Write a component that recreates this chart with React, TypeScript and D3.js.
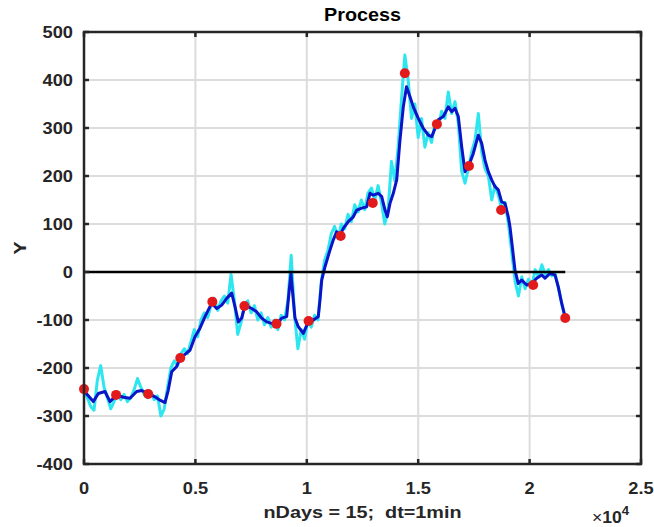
import React from "react";
import * as d3 from "d3";

// ---- data ----
const xTicks = [0, 5000, 10000, 15000, 20000, 25000];
const xTickLabels = ["0", "0.5", "1", "1.5", "2", "2.5"];
const yTicks = [-400, -300, -200, -100, 0, 100, 200, 300, 400, 500];

// raw process (cyan), sampled every 150 min
const rawStep = 150;
const rawValues = [
  -244, -262, -280, -288, -225, -195, -240, -262, -285, -270,
  -250, -266, -255, -270, -262, -245, -222, -240, -255, -262,
  -250, -266, -258, -300, -285, -240, -200, -185, -195, -170,
  -160, -170, -145, -120, -135, -100, -85, -95, -70, -55,
  -80, -60, -50, -65, -5, -60, -130, -105, -70, -60,
  -85, -70, -100, -85, -110, -95, -115, -100, -120, -90,
  -100, -60, 35, -90, -160, -120, -140, -100, -115, -90,
  -100, -20, 25, 45, 80, 95, 70, 100, 90, 120,
  105, 140, 125, 150, 130, 165, 175, 150, 180, 145,
  100, 130, 230, 190, 260, 360, 452, 400, 320, 350,
  280, 320, 260, 290, 270, 310, 300, 335, 320, 375,
  330, 355, 310, 210, 185, 215, 250, 275, 330, 250,
  215, 200, 150, 180, 160, 130, 145, 100, 40, -20,
  -50, -10, -35, -15, -30, 5, -10, 15, -5, 5,
  -8, -5, -35, -68, -96,
];

// smoothed process (blue)
const smoothX = [
  0, 45, 417, 642, 942, 1167, 1468, 1764, 2064, 2365, 2590, 2886, 3186, 3411, 3635,
  3783, 3936, 4160, 4308, 4757, 4982, 5206, 5431, 5731, 5956, 6180, 6405, 6629, 6777,
  6925, 7078, 7226, 7527, 7751, 7976, 8200, 8424, 8649, 8873, 9097, 9214, 9290, 9366,
  9470, 9618, 9842, 10067, 10291, 10515, 10592, 10669, 10817, 11042, 11190, 11342,
  11491, 11638, 11862, 12087, 12240, 12464, 12689, 12836, 12984, 13209, 13362, 13510,
  13613, 13734, 13882, 14035, 14183, 14331, 14475, 14632, 14780, 15004, 15229, 15453,
  15606, 15754, 15902, 16126, 16351, 16504, 16652, 16800, 16952, 17100, 17248, 17473,
  17697, 17850, 17998, 18146, 18298, 18446, 18595, 18747, 18895, 19044, 19120, 19241,
  19344, 19492, 19645, 19869, 20094, 20318, 20543, 20691, 20915, 21140, 21288, 21440,
  21600,
];
const smoothY = [
  -244, -250, -270, -253, -249, -270, -256, -261, -263, -249, -247, -253, -260, -267, -272,
  -246, -208, -197, -180, -163, -135, -117, -93, -65, -76, -69, -55, -44, -72,
  -104, -96, -69, -76, -83, -96, -104, -107, -110, -96, -93, -37, -3, -44,
  -96, -114, -128, -104, -100, -93, -58, -17, 11, 46, 67, 84,
  77, 91, 105, 115, 129, 133, 136, 164, 160, 164, 157, 129,
  115, 143, 164, 192, 275, 344, 386, 365, 344, 320, 299, 285,
  282, 299, 317, 324, 344, 334, 341, 324, 261, 209, 219, 247,
  285, 268, 233, 209, 192, 178, 171, 146, 143, 115, 94, 46,
  4, -24, -17, -27, -24, -13, -6, -13, -3, -6, -31, -65,
  -95,
];

// daily samples (red dots)
const dayX = [0, 1440, 2880, 4320, 5760, 7200, 8640, 10080, 11520, 12960, 14400, 15840, 17280, 18720, 20160, 21600];
const dayY = [-244, -256, -254, -179, -62, -71, -108, -102, 75, 144, 414, 308, 221, 129, -27, -96];

const zeroLineX = [0, 21600];

const title = "Process";
const xLabel = "nDays = 15;  dt=1min";
const yLabel = "Y";

const FONT = "'Liberation Sans', Arial, Helvetica, sans-serif";
const TEXT_COLOR = "#262626";

function T(props: {
  x: number; y: number; size: number; sx: number; anchor?: string; rotate?: number;
  color?: string; dy?: string; children: React.ReactNode;
}) {
  const { x, y, size, sx, anchor = "start", rotate = 0, color = TEXT_COLOR, dy, children } = props;
  return (
    <g transform={`translate(${x},${y}) rotate(${rotate}) scale(${sx},1)`}>
      <text
        x={0}
        y={0}
        dy={dy}
        textAnchor={anchor as any}
        fontFamily={FONT}
        fontWeight="bold"
        fontSize={size}
        fill={color}
        xmlSpace="preserve"
        style={{ whiteSpace: "pre" }}
      >
        {children}
      </text>
    </g>
  );
}

export default function App() {
  const W = 654;
  const H = 527;
  const left = 84, right = 641, top = 32, bottom = 464;

  const x = d3.scaleLinear().domain([0, 25000]).range([left, right]);
  const y = d3.scaleLinear().domain([-400, 500]).range([bottom, top]);

  const rawPts: [number, number][] = rawValues.map((v, i) => [i * rawStep, v]);
  const smoothPts: [number, number][] = smoothX.map((v, i) => [v, smoothY[i]]);
  const line = d3.line<[number, number]>().x((d) => x(d[0])).y((d) => y(d[1]));

  const axisColor = "#262626";
  const gridColor = "#dcdcdc";
  const tickLen = 5;

  return (
    <svg width={W} height={H} style={{ position: "absolute", left: 0, top: 0, background: "#fff" }}>
      <rect x={0} y={0} width={W} height={H} fill="#fff" />
      {/* grid */}
      {xTicks.slice(1, -1).map((t) => (
        <line key={"gx" + t} x1={x(t)} x2={x(t)} y1={top} y2={bottom} stroke={gridColor} strokeWidth={2} />
      ))}
      {yTicks.slice(1, -1).map((t) => (
        <line key={"gy" + t} x1={left} x2={right} y1={y(t)} y2={y(t)} stroke={gridColor} strokeWidth={2} />
      ))}
      {/* raw series */}
      <path d={line(rawPts) || ""} fill="none" stroke="#2ee6f0" strokeWidth={3} strokeLinejoin="round" />
      {/* smoothed */}
      <path d={line(smoothPts) || ""} fill="none" stroke="#0a14c8" strokeWidth={3} strokeLinejoin="round" />
      {/* zero line */}
      <line x1={x(zeroLineX[0])} x2={x(zeroLineX[1])} y1={y(0)} y2={y(0)} stroke="#000" strokeWidth={2.5} />
      {/* dots */}
      {dayX.map((dx, i) => (
        <circle key={"d" + i} cx={x(dx)} cy={y(dayY[i])} r={5} fill="#e31a1c" />
      ))}
      {/* box */}
      <rect x={left} y={top} width={right - left} height={bottom - top} fill="none" stroke={axisColor} strokeWidth={2.5} />
      {/* ticks */}
      {xTicks.map((t) => (
        <g key={"tx" + t}>
          <line x1={x(t)} x2={x(t)} y1={bottom} y2={bottom - tickLen} stroke={axisColor} strokeWidth={2.5} />
          <line x1={x(t)} x2={x(t)} y1={top} y2={top + tickLen} stroke={axisColor} strokeWidth={2.5} />
        </g>
      ))}
      {yTicks.map((t) => (
        <g key={"ty" + t}>
          <line x1={left} x2={left + tickLen} y1={y(t)} y2={y(t)} stroke={axisColor} strokeWidth={2.5} />
          <line x1={right} x2={right - tickLen} y1={y(t)} y2={y(t)} stroke={axisColor} strokeWidth={2.5} />
        </g>
      ))}
      {/* tick labels */}
      {xTicks.map((t, i) => (
        <T key={"lx" + t} x={x(t)} y={494} size={16} sx={1.14} anchor="middle">
          {xTickLabels[i]}
        </T>
      ))}
      {yTicks.map((t) => (
        <T key={"ly" + t} x={73} y={y(t)} dy="0.36em" size={16} sx={1.14} anchor="end">
          {String(t)}
        </T>
      ))}
      {/* exponent */}
      <g transform="translate(592,523) scale(1.1,1)">
        <text x={0} y={0} fontFamily={FONT} fontSize={16} fill={axisColor}>
          ×<tspan fontWeight="bold">10</tspan>
          <tspan fontWeight="bold" dy={-8} fontSize={12}>4</tspan>
        </text>
      </g>
      {/* labels */}
      <T x={(left + right) / 2} y={518} size={16.5} sx={1.2} anchor="middle">
        {xLabel}
      </T>
      <T x={26} y={(top + bottom) / 2} size={17} sx={1.15} anchor="middle" rotate={-90}>
        {yLabel}
      </T>
      <T x={(left + right) / 2} y={21} size={18.5} sx={1.07} anchor="middle" color="#000">
        {title}
      </T>
    </svg>
  );
}
